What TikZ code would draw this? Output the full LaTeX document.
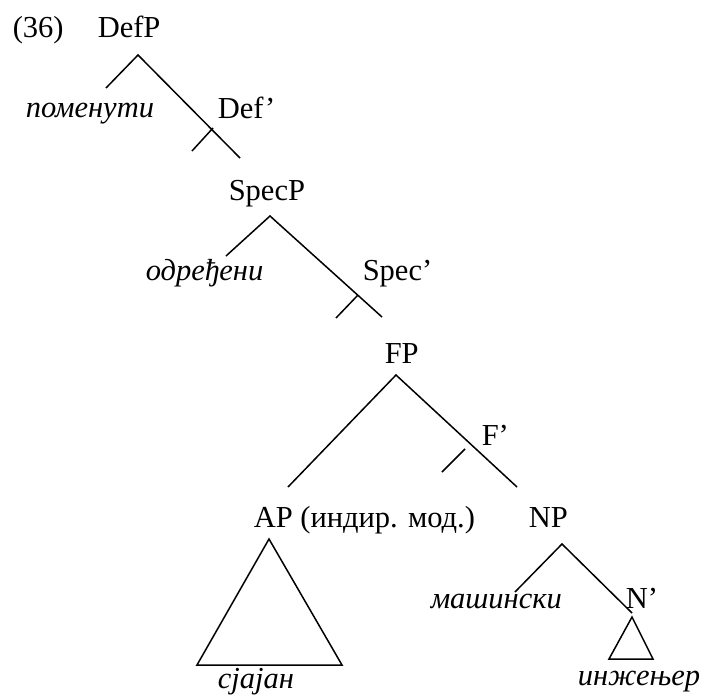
\documentclass[tikz,border=0pt]{standalone}
\usepackage{fontspec}
\setmainfont{Liberation Serif}
\begin{document}
\begin{tikzpicture}[x=1pt,y=-1pt,line width=1.5pt,
  lbl/.style={anchor=base west,inner sep=0pt,font=\fontsize{30.5}{36}\selectfont},
  word/.style={lbl,font=\fontsize{30.5}{36}\selectfont\itshape}]
\useasboundingbox (0,0) rectangle (707,696);
% labels
\node[lbl](num) at (12,37) {(36)};
\node[lbl](defp) at (97,37) {DefP};
\node[word](pomenuti) at (25,117) {поменути};
\node[lbl](defbar) at (217,118) {Def’};
\node[lbl](specp) at (228,200) {SpecP};
\node[word](odredjeni) at (145,280) {одређени};
\node[lbl](specbar) at (362,280) {Spec’};
\node[lbl](fp) at (384,363) {FP};
\node[lbl](fbar) at (481,445) {F’};
\node[lbl](ap) at (253,527) {AP (индир. мод.)};
\node[lbl](np) at (528,527) {NP};
\node[word](masinski) at (430,608) {машински};
\node[lbl](nbar) at (625,608) {N’};
\node[word](sjajan) at (217,688) {сјајан};
\node[word](inzenjer) at (577,685) {инжењер};
% branch points
\foreach \n/\t/\l/\r in {d/{138,55}/{106,88}/{240,158},
                          s/{270,216}/{226,256}/{382,317},
                          f/{396,375}/{288,487}/{517,487},
                          n/{562,544}/{515,592}/{632,613}} {
   \coordinate (\n-top) at (\t);
   \coordinate (\n-left) at (\l);
   \coordinate (\n-right) at (\r);
   \draw (\n-left) -- (\n-top) -- (\n-right);
}
% bar ticks
\foreach \n/\a/\b in {d/{213,128}/{192,151},s/{358,295}/{336,318},f/{465,449}/{442,472}} {
   \coordinate (\n-tick1) at (\a);
   \coordinate (\n-tick2) at (\b);
   \draw (\n-tick1) -- (\n-tick2);
}
% triangles
\coordinate (ap-tri) at (269,539);
\draw (ap-tri) -- (197,665) -- (342,665) -- cycle;
\coordinate (nbar-tri) at (632,617);
\draw (nbar-tri) -- (609,659) -- (653,659) -- cycle;
\end{tikzpicture}
\end{document}
